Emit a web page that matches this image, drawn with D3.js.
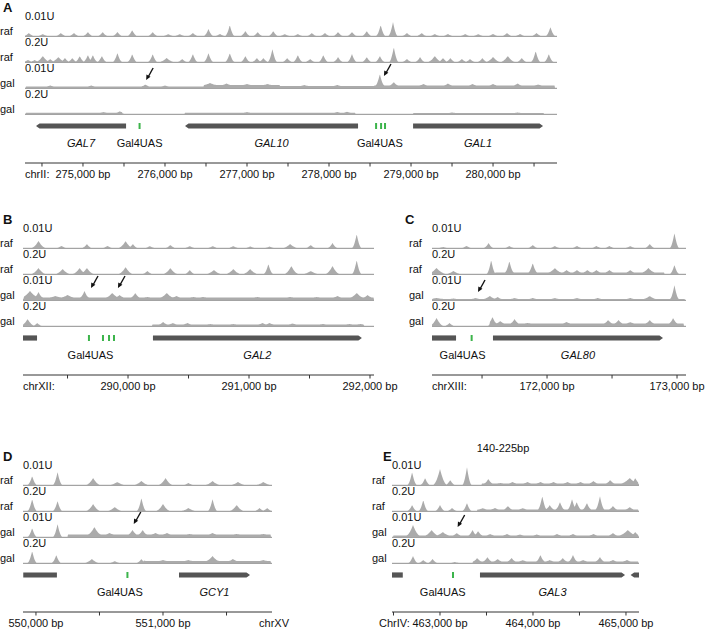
<!DOCTYPE html>
<html>
<head>
<meta charset="utf-8">
<script src="https://cdn.jsdelivr.net/npm/d3@7"></script>
<style>
  body { margin: 0; background: #fff; }
  text { font-family: "Liberation Sans", Arial, sans-serif; fill: #111; }
</style>
</head>
<body>
<svg id="chart" width="709" height="633"></svg>
<script>
// ---- Data (genome positions in kb, coverage heights in arbitrary units) ----
const panelLetters = ["A", "B", "C", "D", "E"];
const chromNames = ["chrII:", "chrXII:", "chrXIII:", "chrXV", "ChrIV:"];
const conditions = ["raf", "raf", "gal", "gal"];
const doses = ["0.01U", "0.2U", "0.01U", "0.2U"];

const xDomains = [[274.293, 280.78], [289.132, 292.033], [171.115, 173.069], [549.898, 551.858], [462.484, 465.14]];
const minorTicks = [
  [274.5, 275, 275.5, 276, 276.5, 277, 277.5, 278, 278.5, 279, 279.5, 280, 280.5],
  [289.5, 290, 290.5, 291, 291.5, 292],
  [171.5, 172, 172.5, 173],
  [550, 550.5, 551, 551.5],
  [462.5, 463, 463.5, 464, 464.5, 465]
];
const labelTicks = [[275, 276, 277, 278, 279, 280], [290, 291, 292], [172, 173], [550, 551], [463, 464, 465]];

// peaks: [position kb, height, breadth factor]
const aRaf01 = [[274.34,3],[274.51,2],[274.73,3],[274.89,3],[275.06,4],[275.24,4],[275.42,4],[275.60,6],[275.85,4],[276.04,2],[276.18,2],[276.34,3],[276.53,7],[276.67,2],[276.79,11],[276.98,5],[277.13,4],[277.32,5],[277.46,2],[277.62,2],[277.79,3],[277.95,3],[278.11,4],[278.28,4],[278.46,5],[278.63,11],[278.78,14],[278.95,3],[279.13,3],[279.29,2],[279.45,2],[279.66,2],[279.82,2],[280.00,2],[280.17,3],[280.33,2],[280.53,3],[280.70,9]];
const aRaf02 = [[274.33,2],[274.41,2],[274.51,6,1.5],[274.60,3],[274.70,5,1.5],[274.78,4],[274.87,4],[274.96,6],[275.06,7],[275.12,7],[275.23,6],[275.42,9],[275.60,8],[275.85,8],[276.02,4,1.5],[276.21,3],[276.34,8],[276.53,9],[276.79,9],[276.98,6],[277.12,4],[277.20,4],[277.31,13],[277.49,4],[277.62,7],[277.77,3],[277.93,7],[278.11,5],[278.28,8],[278.46,5],[278.62,6],[278.79,15],[278.95,3],[279.11,5],[279.29,6,1.5],[279.39,4],[279.48,4],[279.62,3],[279.72,3],[279.87,4],[280.00,5,1.5],[280.18,6,1.5],[280.35,4],[280.52,11],[280.68,8]];
const aGal01 = [[274.6,2.5],[275.1,2.5],[275.76,3.5],[276.0,2.5],[276.55,5,1.5],[276.75,4.5],[277.0,4],[277.25,4],[277.7,3],[278.1,3],[278.62,14],[278.79,6],[279.15,4],[279.45,4.5],[279.75,4],[280.0,4],[280.3,4.5],[280.55,3.5]];
const aGal02 = [[275.25,2],[275.45,2.7],[277.0,2],[278.1,2],[278.22,2.3],[279.5,1.5],[280.3,1.5]];
const aBg = [[], [], [[274.30,276.47,1.5],[276.47,277.40,3],[277.40,278.55,2],[278.55,280.75,2.5]], [[274.30,275.48,1.2],[276.24,278.32,1.2],[279.03,280.62,1]]];

const bRaf01 = [[289.26,7,1.5],[289.45,2],[289.66,4],[289.83,2],[289.98,7,1.5],[290.04,4],[290.18,2],[290.35,3],[290.51,2],[290.70,2],[290.87,2],[291.01,1.5],[291.17,1.5],[291.34,4,1.5],[291.51,3],[291.69,5],[291.89,14]];
const bRaf02 = [[289.26,6,1.5],[289.46,5,1.5],[289.60,6,1.5],[289.66,6,1.5],[289.98,7,1.5],[290.16,3],[290.35,6,1.5],[290.51,4],[290.71,4,1.5],[290.87,5,1.5],[291.01,5,1.5],[291.16,10],[291.35,8,1.5],[291.51,3,1.5],[291.69,8,1.5],[291.89,14]];
const bGal01 = [[289.19,9,2],[289.26,8],[289.40,4,1.5],[289.50,5,1.5],[289.64,9],[289.74,2],[289.87,7,1.5],[289.93,5],[290.06,7],[290.16,3],[290.32,7,1.5],[290.40,4],[290.54,3],[290.62,3],[290.84,2.5],[291.07,3],[291.34,3],[291.56,3],[291.73,4],[291.89,7,1.5],[291.98,5]];
const bGal02 = [[289.17,7,1.5],[289.25,3],[290.29,4],[290.37,3],[290.49,3],[290.68,2],[290.87,2],[291.11,3],[291.17,3],[291.36,2.5],[291.61,2],[291.83,2],[291.92,2]];
const bBg = [[], [], [[289.14,292.03,2.5]], [[290.20,291.95,1.5]]];

const cRaf01 = [[171.20,1],[171.38,2],[171.55,5],[171.71,2],[171.89,3],[172.06,2],[172.23,2],[172.38,2],[172.48,2],[172.64,2],[172.79,4],[172.98,15]];
const cRaf02 = [[171.15,6,2],[171.28,3,1.5],[171.57,14],[171.71,13],[171.89,11],[172.06,6,1.5],[172.15,4],[172.23,4],[172.31,4],[172.38,4],[172.48,4],[172.64,4],[172.78,6,1.5],[172.98,9]];
const cGal01 = [[171.15,2,2],[171.28,1.5],[171.45,2],[171.56,4,1.5],[171.62,3],[171.75,2],[171.89,2],[172.06,2],[172.23,2],[172.39,2],[172.64,2],[172.79,4,1.5],[172.98,15]];
const cGal02 = [[171.15,8,1.5],[171.25,3],[171.58,9],[171.64,5],[171.75,7],[171.85,3],[172.15,4],[172.47,6],[172.55,6],[172.64,4],[172.79,6],[172.97,8]];
const cBg = [[], [[171.60,172.90,1.5]], [[171.12,173.06,1]], [[171.56,173.05,2.5]]];

const dRaf01 = [[549.97,9],[550.17,13],[550.45,7,1.5],[550.64,3,1.5],[550.83,4,1.5],[551.02,7,1.5],[551.20,2],[551.39,4,1.5],[551.59,3,1.5],[551.79,3,1.5]];
const dRaf02 = [[549.97,12],[550.17,10],[550.45,7,1.5],[550.62,4,1.5],[550.83,13],[551.00,7,1.5],[551.20,3,1.5],[551.39,12],[551.58,6,1.5],[551.76,3],[551.82,3]];
const dGal01 = [[549.97,9],[550.17,13],[550.35,2],[550.46,10,1.5],[550.58,4],[550.76,7],[550.84,7],[550.94,4],[551.03,4],[551.21,3],[551.39,4],[551.58,3],[551.79,3]];
const dGal02 = [[549.97,12],[550.16,8],[550.44,4,1.5],[550.62,2],[550.83,4],[551.00,3],[551.20,3],[551.39,7,1.5],[551.55,4],[551.79,3]];
const dBg = [[], [], [[550.25,551.85,2.5]], [[550.85,551.85,2]]];

const eRaf01 = [[462.70,13],[462.84,7],[463.00,16,1.5],[463.11,5],[463.29,18],[463.52,6],[463.65,2],[463.78,3],[463.94,3],[464.08,3],[464.22,3],[464.37,3],[464.51,3],[464.65,4],[464.83,5],[465.04,7,2],[465.10,7]];
const eRaf02 = [[462.70,6],[462.82,11],[463.00,6],[463.13,3],[463.29,8],[463.46,3],[463.59,3],[463.73,5],[463.89,3],[464.10,15],[464.18,6],[464.29,9],[464.42,12],[464.47,9],[464.58,8],[464.72,15],[464.86,5],[465.04,4]];
const eGal01 = [[462.71,12,1.5],[462.91,7,1.5],[463.03,5,1.5],[463.18,4],[463.35,7],[463.41,6],[463.54,3],[463.72,3],[463.86,2.5],[464.04,2.5],[464.26,3],[464.43,3],[464.65,3],[464.86,4],[465.02,7,2],[465.10,5]];
const eGal02 = [[462.71,7],[462.82,3],[462.92,4],[463.16,1],[463.40,5],[463.51,6],[463.62,4],[463.77,5],[463.89,3],[464.08,8],[464.18,3],[464.32,5],[464.43,8],[464.54,3],[464.72,6],[464.86,3],[465.01,3]];
const eBg = [[[463.45,465.13,1.5]], [[463.40,465.13,1.5]], [[462.50,465.13,1.5]], [[463.35,465.13,1.5]]];

// genes: [start kb, end kb, direction (-1 left, 1 right, 0 none), name]
const genesA = [[274.427, 275.525, -1, "GAL7"], [276.244, 278.354, -1, "GAL10"], [279.025, 280.610, 1, "GAL1"]];
const genesB = [[289.132, 289.248, 0, ""], [290.206, 291.933, 1, "GAL2"]];
const genesC = [[171.115, 171.300, 0, ""], [171.584, 172.892, 1, "GAL80"]];
const genesD = [[549.900, 550.165, 0, ""], [551.126, 551.685, 1, "GCY1"]];
const genesE = [[462.484, 462.600, 0, ""], [463.430, 464.990, 1, "GAL3"], [465.050, 465.140, -1, ""]];

// Gal4 UAS sites and label positions
const uasA = [275.69, 278.574, 278.635, 278.683];
const uasB = [289.677, 289.793, 289.843, 289.884];
const uasC = [171.42];
const uasD = [550.72];
const uasE = [463.14];
const uasLabelsA = [275.69, 278.62];
const uasLabelsB = [289.69];
const uasLabelsC = [171.35];
const uasLabelsD = [550.66];
const uasLabelsE = [463.03];

// arrows on the gal 0.01U track: [kb, height of tip]
const arrowsA = [[275.77, 8], [278.67, 12]];
const arrowsB = [[289.694, 12], [289.917, 12]];
const arrowsC = [[171.469, 8]];
const arrowsD = [[550.77, 13]];
const arrowsE = [[463.19, 10]];

const tracks = [[aRaf01, aRaf02, aGal01, aGal02], [bRaf01, bRaf02, bGal01, bGal02], [cRaf01, cRaf02, cGal01, cGal02], [dRaf01, dRaf02, dGal01, dGal02], [eRaf01, eRaf02, eGal01, eGal02]];
const backgrounds = [aBg, bBg, cBg, dBg, eBg];
const genes = [genesA, genesB, genesC, genesD, genesE];
const uas = [uasA, uasB, uasC, uasD, uasE];
const uasLabels = [uasLabelsA, uasLabelsB, uasLabelsC, uasLabelsD, uasLabelsE];
const arrows = [arrowsA, arrowsB, arrowsC, arrowsD, arrowsE];

// ---- Layout ----
const layout = [
  { x0: 25, x1: 557, top: 0, labelX: 0, letterX: 3, chromX: 25, chromAnchor: "start" },
  { x0: 23, x1: 374, top: 212, labelX: 0, letterX: 3, chromX: 23, chromAnchor: "start" },
  { x0: 432, x1: 686, top: 212, labelX: 409, letterX: 405, chromX: 432, chromAnchor: "start" },
  { x0: 23, x1: 272, top: 449, labelX: 0, letterX: 3, chromX: 289, chromAnchor: "end" },
  { x0: 392, x1: 639, top: 449, labelX: 372, letterX: 383, chromX: 379, chromAnchor: "start" }
];
const trackBase0 = 36, trackGap = 26, trackH = 20;
const geneY = 126, geneLabelY = 147, axisY = 163, tickLabelY = 178;

const fillGrey = "#ababab";
const svg = d3.select("#chart");
const fmt = d3.format(",");

function trackPath(peaks, bg, x, y, x0, x1) {
  const pts = [];
  for (let px = x0; px <= x1; px += 0.5) {
    const kb = x.invert(px);
    let base = 0.3;
    bg.forEach(b => { if (kb >= b[0] && kb <= b[1]) base = Math.max(base, b[2]); });
    let h = base;
    peaks.forEach(p => {
      const hw = 4.5 * (p[2] || 1);
      const d = Math.abs(px - x(p[0])) / hw;
      if (d < 1) h = Math.max(h, base + (p[1] - base) * Math.pow(1 - d, 1.7));
    });
    pts.push([px, h]);
  }
  return d3.area().x(d => d[0]).y0(y(0)).y1(d => y(d[1]))(pts);
}

panelLetters.forEach((letter, pi) => {
  const L = layout[pi];
  const g = svg.append("g").attr("transform", `translate(0,${L.top})`);
  const x = d3.scaleLinear().domain(xDomains[pi]).range([L.x0, L.x1]);

  // panel letter
  g.append("text")
    .attr("x", L.letterX).attr("y", 12)
    .style("font-size", "13px").style("font-weight", "bold")
    .text(letter);

  // tracks
  tracks[pi].forEach((peaks, ti) => {
    const base = trackBase0 + ti * trackGap;
    const y = d3.scaleLinear().domain([0, trackH]).range([base, base - trackH]);
    g.append("path")
      .attr("d", trackPath(peaks, backgrounds[pi][ti], x, y, L.x0, L.x1))
      .attr("fill", fillGrey);
    g.append("line")
      .attr("x1", L.x0).attr("x2", L.x1)
      .attr("y1", base + 0.5).attr("y2", base + 0.5)
      .attr("stroke", "#a3a3a3").attr("stroke-width", 1);
    g.append("text")
      .attr("x", L.x0).attr("y", base - 16)
      .style("font-size", "11px")
      .text(doses[ti]);
    g.append("text")
      .attr("x", L.labelX).attr("y", base - 1)
      .style("font-size", "11px")
      .text(conditions[ti]);

    if (ti == 2) {
      arrows[pi].forEach(a => {
        const tx = x(a[0]), ty = y(a[1]);
        g.append("line")
          .attr("x1", tx + 2).attr("y1", ty - 3)
          .attr("x2", tx + 7).attr("y2", ty - 12)
          .attr("stroke", "#111").attr("stroke-width", 1.4);
        g.append("path")
          .attr("d", `M${tx},${ty} L${tx + 0.3},${ty - 5.5} L${tx + 4.4},${ty - 3.2} Z`)
          .attr("fill", "#111");
      });
    }
  });

  // genes
  genes[pi].forEach(gn => {
    const xs = x(gn[0]), xe = x(gn[1]), h = 2.6, tip = 3.5;
    let d;
    if (gn[2] == 1) d = `M${xs},${geneY - h}L${xe - tip},${geneY - h}L${xe},${geneY}L${xe - tip},${geneY + h}L${xs},${geneY + h}Z`;
    else if (gn[2] == -1) d = `M${xe},${geneY - h}L${xs + tip},${geneY - h}L${xs},${geneY}L${xs + tip},${geneY + h}L${xe},${geneY + h}Z`;
    else d = `M${xs},${geneY - h}L${xe},${geneY - h}L${xe},${geneY + h}L${xs},${geneY + h}Z`;
    g.append("path").attr("d", d).attr("fill", "#555");
    if (gn[3]) {
      g.append("text")
        .attr("x", (xs + xe) / 2).attr("y", geneLabelY)
        .attr("text-anchor", "middle")
        .style("font-size", "11px").style("font-style", "italic")
        .text(gn[3]);
    }
  });

  g.selectAll(".uas")
    .data(uas[pi])
    .enter()
    .append("rect")
    .attr("x", d => x(d) - 1)
    .attr("y", geneY - 3)
    .attr("width", 2)
    .attr("height", 6)
    .attr("fill", "#3cb44b");

  uasLabels[pi].forEach(u => {
    g.append("text")
      .attr("x", x(u)).attr("y", geneLabelY)
      .attr("text-anchor", "middle")
      .style("font-size", "11px")
      .text("Gal4UAS");
  });

  // axis
  g.append("line")
    .attr("x1", L.x0).attr("x2", L.x1)
    .attr("y1", axisY).attr("y2", axisY)
    .attr("stroke", "#333").attr("stroke-width", 1);
  g.selectAll(".tick")
    .data(minorTicks[pi])
    .enter()
    .append("line")
    .attr("x1", d => x(d)).attr("x2", d => x(d))
    .attr("y1", axisY).attr("y2", axisY + 3.5)
    .attr("stroke", "#333");
  g.selectAll(".ticklabel")
    .data(labelTicks[pi])
    .enter()
    .append("text")
    .attr("x", d => x(d)).attr("y", tickLabelY)
    .attr("text-anchor", "middle")
    .style("font-size", "11px")
    .text(d => fmt(Math.round(d * 1000)) + " bp");
  g.append("text")
    .attr("x", L.chromX).attr("y", tickLabelY)
    .attr("text-anchor", L.chromAnchor)
    .style("font-size", "11px")
    .text(chromNames[pi]);
});

// size-selection note over panel E
svg.append("text")
  .attr("x", 503).attr("y", 452)
  .attr("text-anchor", "middle")
  .style("font-size", "11px")
  .text("140-225bp");
</script>
</body>
</html>
